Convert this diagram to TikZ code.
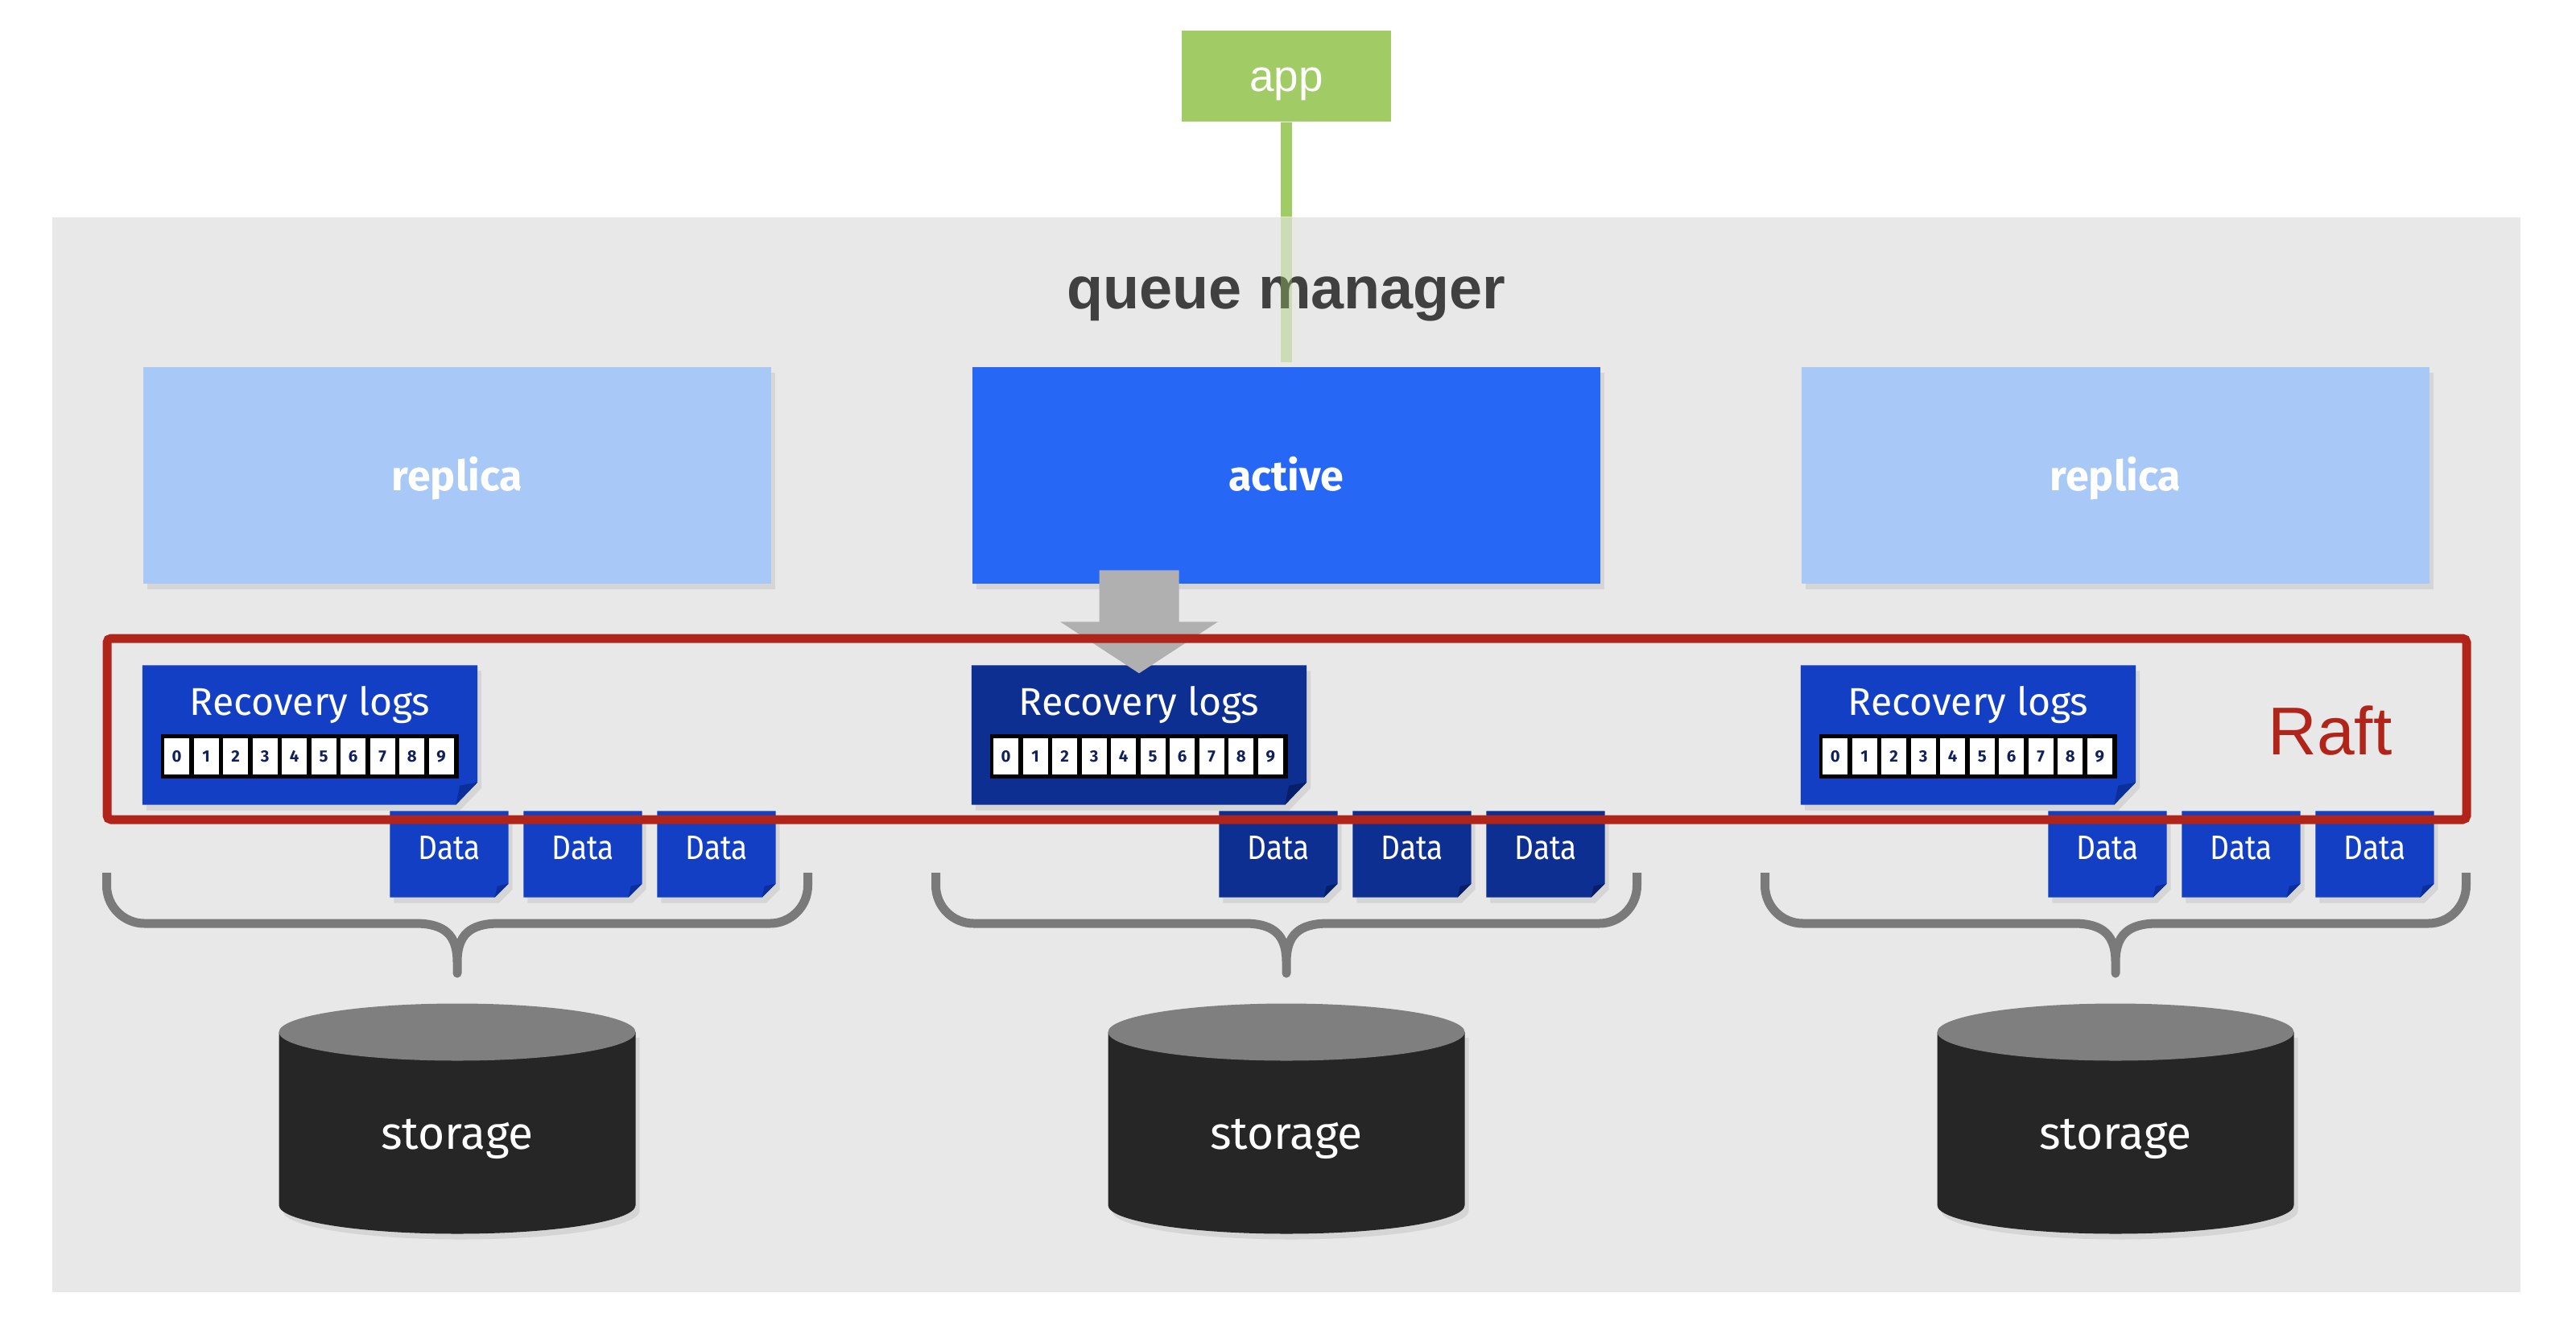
\documentclass[tikz,border=0pt]{standalone}
\usepackage{fontspec}
\setmainfont{Fira Sans}
\newfontfamily\arialfont{Liberation Sans}
\newfontfamily\narrowfont[FakeStretch=0.88]{Fira Sans}
\usetikzlibrary{calc,shadows,backgrounds}

\definecolor{panelgray}{HTML}{E8E8E8}
\definecolor{titlegray}{HTML}{404040}
\definecolor{appgreen}{HTML}{A1CC65}
\definecolor{replicablue}{HTML}{A8C8F8}
\definecolor{activeblue}{HTML}{2767F6}
\definecolor{logblue}{HTML}{123FC4}
\definecolor{logdark}{HTML}{0C2F91}
\definecolor{foldblue}{HTML}{0A2E9A}
\definecolor{folddark}{HTML}{071F6A}
\definecolor{digitnavy}{HTML}{10205A}
\definecolor{arrowgray}{HTML}{B0B0B0}
\definecolor{raftred}{HTML}{B0241A}
\definecolor{bracegray}{HTML}{7A7A7A}
\definecolor{disktop}{HTML}{7F7F7F}
\definecolor{diskbody}{HTML}{262626}

\begin{document}
\begin{tikzpicture}
  \tikzstyle{panel}=[rectangle,fill=panelgray,minimum width=30.66cm,minimum height=13.35cm,inner sep=0]
  \tikzstyle{qmtitle}=[anchor=base,text=titlegray,font=\arialfont\bfseries\fontsize{21}{25}\selectfont]
  \tikzstyle{appbox}=[rectangle,fill=appgreen,minimum width=2.6cm,minimum height=1.13cm,inner sep=0,text=white,font=\arialfont\fontsize{15.6}{18}\selectfont,text height=0.37cm,text depth=0cm]
  \tikzstyle{appline}=[appgreen,line width=0.14cm]
  \tikzstyle{softshadow}=[drop shadow={shadow xshift=0.05cm,shadow yshift=-0.07cm,opacity=0.18}]
  \tikzstyle{tier}=[rectangle,softshadow,minimum width=7.8cm,minimum height=2.69cm,inner sep=0,text=white,font=\bfseries\fontsize{14.8}{17}\selectfont,text height=0.38cm,text depth=0cm]
  \tikzstyle{logpage}=[rectangle,minimum width=4.15cm,minimum height=1.72cm,inner sep=0,text=white,font=\fontsize{13.7}{16}\selectfont,text height=0.61cm,text depth=1.11cm]
  \tikzstyle{strip}=[rectangle,fill=black,minimum width=3.70cm,minimum height=0.55cm,inner sep=0]
  \tikzstyle{logcell}=[rectangle,fill=white,minimum width=0.31cm,minimum height=0.45cm,inner sep=0,text=digitnavy,font=\bfseries\fontsize{5.8}{6}\selectfont]
  \tikzstyle{datapage}=[rectangle,minimum width=1.46cm,minimum height=1.06cm,inner sep=0,text=white,font=\narrowfont\fontsize{12}{14}\selectfont,text height=0.59cm,text depth=0.47cm]
  \tikzstyle{raftframe}=[rectangle,draw=raftred,line width=0.11cm,rounded corners=0.05cm,minimum width=29.31cm,minimum height=2.25cm,inner sep=0]
  \tikzstyle{bracepath}=[bracegray,line width=0.11cm,line join=round]
  \tikzstyle{disklabel}=[anchor=base,text=white,font=\fontsize{16.2}{19}\selectfont]

  \useasboundingbox (0,0) rectangle (32,-16.56);
  \begin{pgfonlayer}{background}
    \fill[white] (0,0) rectangle (32,-16.56);
    \node[panel] (qm) at (15.98,-9.375) {};
  \end{pgfonlayer}

  \node[qmtitle] (title) at (15.98,-3.83) {queue manager};
  \node[appbox] (app) at (15.98,-0.945) {app};

  % three queue manager instances
  \foreach \i/\tiername/\tierfill/\logfill/\foldfill in {0/replica/replicablue/logblue/foldblue,1/active/activeblue/logdark/folddark,2/replica/replicablue/logblue/foldblue} {
    \pgfmathsetmacro{\cx}{5.68+10.3*\i}
    \node[tier,fill=\tierfill] (tier\i) at (\cx,-5.905) {\tiername};
    \node[logpage] (rlog\i) at (\cx-1.83,-9.13) {Recovery logs};
    \begin{pgfonlayer}{background}
      \fill[\logfill,softshadow] (rlog\i.north west) -- (rlog\i.north east) -- ($(rlog\i.south east)+(0,0.28)$) -- ($(rlog\i.south east)+(-0.27,0)$) -- (rlog\i.south west) -- cycle;
      \fill[\foldfill] ($(rlog\i.south east)+(0,0.28)$) -- ($(rlog\i.south east)+(-0.27,0)$) -- ($(rlog\i.south east)+(-0.22,0.24)$) -- cycle;
    \end{pgfonlayer}
    \node[strip] (strip\i) at (\cx-1.83,-9.395) {};
    \foreach \d in {0,...,9}
      \node[logcell] (cell\i\d) at ($(strip\i.west)+(0.204+0.365*\d,0)$) {\d};
    \foreach \j in {0,1,2} {
      \node[datapage] (data\i\j) at (\cx-0.10+1.66*\j,-10.61) {Data};
      \begin{pgfonlayer}{background}
        \fill[\logfill,softshadow] (data\i\j.north west) -- (data\i\j.north east) -- ($(data\i\j.south east)+(0,0.17)$) -- ($(data\i\j.south east)+(-0.17,0)$) -- (data\i\j.south west) -- cycle;
        \fill[\foldfill] ($(data\i\j.south east)+(0,0.17)$) -- ($(data\i\j.south east)+(-0.17,0)$) -- ($(data\i\j.south east)+(-0.14,0.14)$) -- cycle;
      \end{pgfonlayer}
    }
    % brace over the files
    \draw[bracepath,shift={(\cx,0)}] (-4.355,-10.84) -- (-4.355,-11.0) arc (180:270:0.47) -- (-0.52,-11.47)
      .. controls (-0.15,-11.47) and (0,-11.62) .. (0,-11.95) -- (0,-12.09) -- (0,-11.95)
      .. controls (0,-11.62) and (0.15,-11.47) .. (0.52,-11.47) -- (3.885,-11.47) arc (270:360:0.47) -- (4.355,-10.84);
    % storage disk
    \fill[diskbody,softshadow] (\cx-2.215,-12.82) -- (\cx-2.215,-14.97) arc (180:360:2.215 and 0.355) -- (\cx+2.215,-12.82) -- cycle;
    \fill[disktop] (\cx,-12.82) ellipse (2.215 and 0.355);
    \node[disklabel] (disk\i) at (\cx,-14.27) {storage};
  }

  \draw[appline] (app.south) -- (app.south |- qm.north);
  \draw[appline,opacity=0.38] (app.south |- qm.north) -- ($(tier1.north)+(0,0.05)$);

  % active writes its log
  \fill[arrowgray,shift={(rlog1.north)}] (0,-0.10) -- (0.98,0.54) -- (0.495,0.54) -- (0.495,1.18)
    -- (-0.495,1.18) -- (-0.495,0.54) -- (-0.98,0.54) -- cycle;

  \node[raftframe] (raft) at (15.985,-9.055) {};
  \node[anchor=base,text=raftred,font=\arialfont\fontsize{23.9}{28}\selectfont] (raftlabel) at (28.945,-9.37) {Raft};
\end{tikzpicture}
\end{document}
